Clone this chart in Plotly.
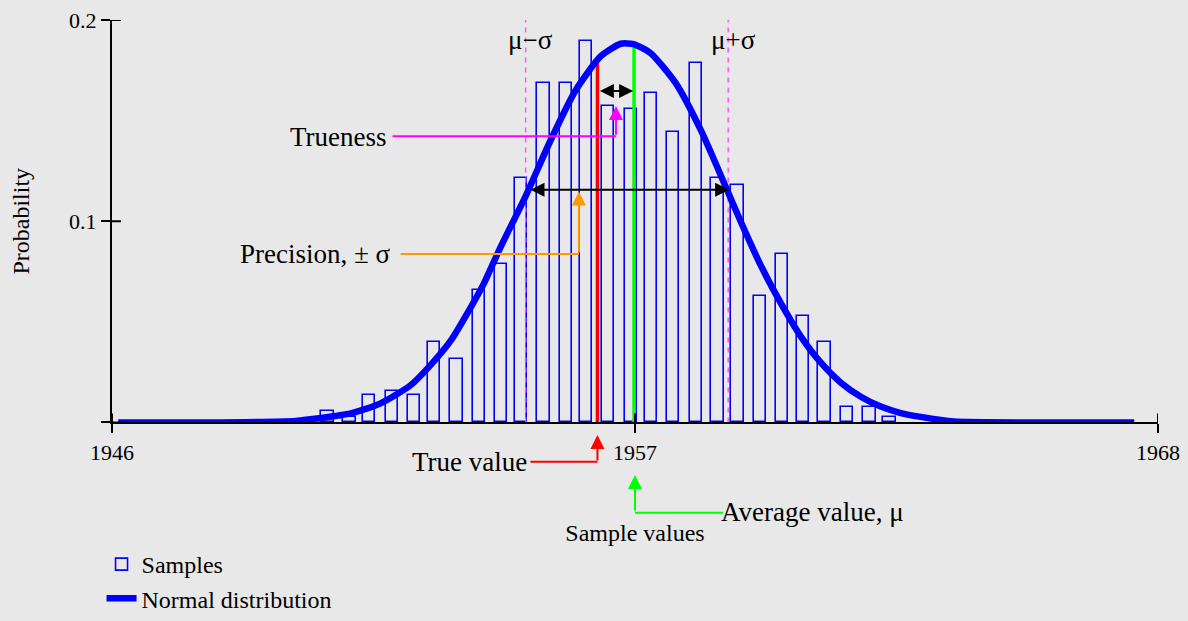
"""Histogram of sample values with a fitted normal curve, trueness and precision markers."""
import plotly.graph_objects as go

# histogram bins (centre of each bar) and probability density
bin_centers = [
    1950.53, 1950.99, 1951.41, 1951.89, 1952.35, 1952.77, 1953.25, 1953.72, 1954.18,
    1954.60, 1955.08, 1955.55, 1955.97, 1956.43, 1956.92, 1957.34, 1957.80, 1958.28,
    1958.73, 1959.16, 1959.63, 1960.09, 1960.53, 1960.99, 1961.46, 1961.93, 1962.35,
]
sample_prob = [
    0.0057, 0.0029, 0.0137, 0.0158, 0.0137, 0.0400, 0.0317, 0.0659, 0.0790,
    0.1214, 0.1686, 0.1686, 0.1896, 0.1575, 0.1557, 0.1636, 0.1444, 0.1785,
    0.1214, 0.1182, 0.0630, 0.0839, 0.0531, 0.0399, 0.0077, 0.0077, 0.0026,
]

# normal distribution curve
curve_x = [
    1946.13, 1948.00, 1949.86, 1950.39, 1951.02, 1951.65, 1952.28, 1952.70, 1953.12,
    1953.54, 1953.82, 1954.17, 1954.70, 1955.23, 1955.75, 1956.28, 1956.70, 1956.97,
    1957.33, 1957.86, 1958.39, 1958.91, 1959.23, 1959.65, 1960.07, 1960.49, 1960.91,
    1961.33, 1961.75, 1962.17, 1962.59, 1963.01, 1963.71, 1965.50, 1967.50,
]
curve_y = [
    0.0, 0.0, 0.0008, 0.0022, 0.0045, 0.0095, 0.0185, 0.0285, 0.0405,
    0.0570, 0.0690, 0.0870, 0.1125, 0.1405, 0.1650, 0.1820, 0.1882, 0.1880,
    0.1835, 0.1685, 0.1450, 0.1170, 0.0995, 0.0778, 0.0592, 0.0427, 0.0297,
    0.0198, 0.0128, 0.0079, 0.0047, 0.0028, 0.0005, 0.0, 0.0,
]

true_value = 1956.21
true_top = 0.1793
mean_value = 1956.98
mean_top = 0.1882
sigma_lo = 1954.70
sigma_hi = 1958.96

x_ticks = [1946, 1957, 1968]
y_ticks = [0, 0.1, 0.2]
y_ticktext = ["", "0.1", "0.2"]

FONT = "Liberation Serif"
BG = "#e8e8e8"
BLUE = "#0000ff"
MAGENTA = "#ff00ff"
ORANGE = "#ff9900"
RED = "#ff0000"
GREEN = "#00ff00"
NOTE = 27  # callout text size

fig = go.Figure()

fig.add_trace(go.Bar(
    x=bin_centers, y=sample_prob, width=0.263, name="Samples",
    marker=dict(color="rgba(0,0,0,0)", line=dict(color=BLUE, width=1.6)),
))

# mu - sigma / mu + sigma guides
for xv in (sigma_lo, sigma_hi):
    fig.add_trace(go.Scatter(
        x=[xv, xv], y=[0, 0.2], mode="lines", showlegend=False,
        line=dict(color="#ff55ff", width=1.5, dash="5px,5px"),
    ))

fig.add_trace(go.Scatter(
    x=[true_value, true_value], y=[0, true_top], mode="lines", showlegend=False,
    line=dict(color=RED, width=3.5),
))
fig.add_trace(go.Scatter(
    x=[mean_value, mean_value], y=[0, mean_top], mode="lines", showlegend=False,
    line=dict(color=GREEN, width=3.5),
))

fig.add_trace(go.Scatter(
    x=curve_x, y=curve_y, mode="lines", name="Normal distribution",
    line=dict(color=BLUE, width=6.5, shape="spline", smoothing=0.6),
))

shapes = []
annotations = []

# inner halves of the crossing ticks
for v in x_ticks:
    shapes.append(dict(type="line", xref="x", yref="y", ysizemode="pixel", yanchor=0,
                       x0=v, x1=v, y0=0, y1=9, line=dict(color="black", width=2)))
for v in y_ticks:
    shapes.append(dict(type="line", xref="x", yref="y", xsizemode="pixel", xanchor=1946,
                       x0=0, x1=9, y0=v, y1=v, line=dict(color="black", width=2)))

# mu-sigma labels
annotations.append(dict(x=sigma_lo + 0.1, y=0.190, xref="x", yref="y", text="μ−σ",
                        showarrow=False, font=dict(size=NOTE)))
annotations.append(dict(x=sigma_hi + 0.12, y=0.190, xref="x", yref="y", text="μ+σ",
                        showarrow=False, font=dict(size=NOTE)))

# double arrows: trueness gap and precision span
annotations.append(dict(x=mean_value - 0.02, y=0.1647, ax=true_value + 0.02, ay=0.1647,
                        xref="x", yref="y", axref="x", ayref="y", text="", showarrow=True,
                        arrowhead=2, arrowside="end+start", arrowsize=1.4, arrowwidth=2,
                        arrowcolor="black"))
annotations.append(dict(x=sigma_hi + 0.02, y=0.1156, ax=sigma_lo + 0.07, ay=0.1156,
                        xref="x", yref="y", axref="x", ayref="y", text="", showarrow=True,
                        arrowhead=2, arrowside="end+start", arrowsize=1.4, arrowwidth=2,
                        arrowcolor="black"))

# Trueness callout
shapes.append(dict(type="line", xref="x", yref="y", x0=1951.90, x1=1956.60, y0=0.1422, y1=0.1422,
                   line=dict(color=MAGENTA, width=2)))
annotations.append(dict(x=1956.60, y=0.1573, ax=1956.60, ay=0.1422, xref="x", yref="y",
                        axref="x", ayref="y", text="", showarrow=True, arrowhead=2,
                        arrowsize=1.4, arrowwidth=2, arrowcolor=MAGENTA))
annotations.append(dict(x=1951.82, y=0.1419, xref="x", yref="y", text="Trueness",
                        xanchor="right", yanchor="middle", showarrow=False, font=dict(size=NOTE)))

# Precision callout
shapes.append(dict(type="line", xref="x", yref="y", x0=1952.07, x1=1955.82, y0=0.0837, y1=0.0837,
                   line=dict(color=ORANGE, width=2)))
annotations.append(dict(x=1955.82, y=0.1148, ax=1955.82, ay=0.0837, xref="x", yref="y",
                        axref="x", ayref="y", text="", showarrow=True, arrowhead=2,
                        arrowsize=1.4, arrowwidth=2, arrowcolor=ORANGE))
annotations.append(dict(x=1951.92, y=0.0837, xref="x", yref="y", text="Precision, ± σ",
                        xanchor="right", yanchor="middle", showarrow=False, font=dict(size=NOTE)))

# True value callout (below the axis, paper y)
shapes.append(dict(type="line", xref="x", yref="paper", x0=1954.80, x1=true_value,
                   y0=0.2651, y1=0.2651, line=dict(color=RED, width=2)))
annotations.append(dict(x=true_value, y=0.3095, ax=0, ay=27, xref="x", yref="paper",
                        text="", showarrow=True, arrowhead=2, arrowsize=1.4, arrowwidth=2,
                        arrowcolor=RED))
annotations.append(dict(x=1954.76, y=0.2651, xref="x", yref="paper", text="True value",
                        xanchor="right", yanchor="middle", showarrow=False, font=dict(size=NOTE)))

# Average value callout
shapes.append(dict(type="line", xref="x", yref="paper", x0=1958.85, x1=mean_value + 0.02,
                   y0=0.1802, y1=0.1802, line=dict(color=GREEN, width=2)))
annotations.append(dict(x=mean_value + 0.02, y=0.2429, ax=0, ay=37, xref="x", yref="paper",
                        text="", showarrow=True, arrowhead=2, arrowsize=1.4, arrowwidth=2,
                        arrowcolor=GREEN))
annotations.append(dict(x=1958.76, y=0.1819, xref="x", yref="paper", text="Average value, μ",
                        xanchor="left", yanchor="middle", showarrow=False, font=dict(size=NOTE)))

fig.update_layout(
    width=1188,
    height=621,
    margin=dict(l=112, r=30, t=20, b=0),
    paper_bgcolor=BG,
    plot_bgcolor=BG,
    font=dict(family=FONT, size=24, color="black"),
    bargap=0,
    shapes=shapes,
    annotations=annotations,
    legend=dict(
        x=-0.01, y=0.0, xanchor="left", yanchor="bottom",
        bgcolor="rgba(0,0,0,0)", font=dict(size=24), tracegroupgap=0,
    ),
    xaxis=dict(
        range=[1946, 1968], tickvals=x_ticks, ticks="outside", ticklen=9, tickwidth=2,
        tickcolor="black", showline=True, linecolor="black", linewidth=2, automargin=False,
        showgrid=False, zeroline=False, tickfont=dict(size=22),
        title=dict(text="Sample values", standoff=60, font=dict(size=24)),
    ),
    yaxis=dict(
        domain=[0.3303, 1], range=[0, 0.2], tickvals=y_ticks, ticktext=y_ticktext,
        ticks="outside", ticklen=9, tickwidth=2, tickcolor="black", showline=True,
        linecolor="black", linewidth=2, automargin=False, showgrid=False, zeroline=False,
        tickfont=dict(size=22),
        title=dict(text="Probability", standoff=33, font=dict(size=24)),
    ),
)

fig.write_html("out.html", config={"displayModeBar": False},
               post_script="document.body.style.margin='0';")
